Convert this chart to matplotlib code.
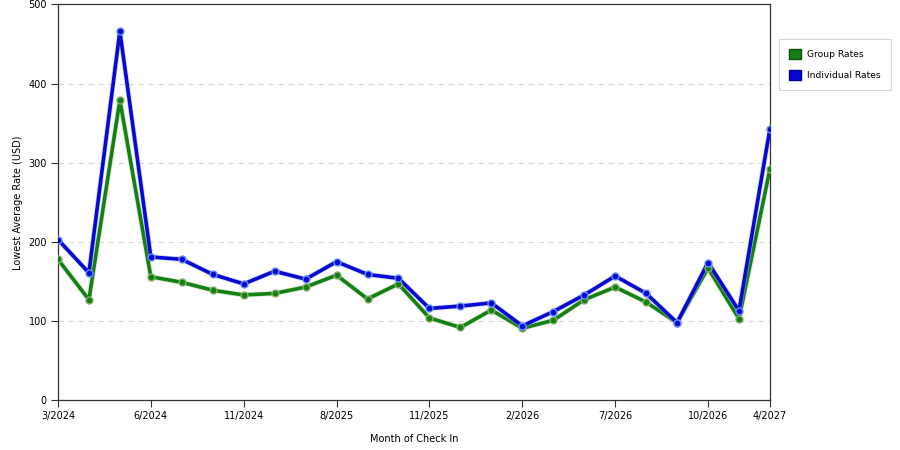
import matplotlib.pyplot as plt
import matplotlib.patheffects as pe
from matplotlib.patches import Patch

# month of check in (only every third one is labelled on the axis)
months = ['3/2024', '4/2024', '5/2024', '6/2024', '7/2024', '9/2024',
          '11/2024', '2/2025', '5/2025', '8/2025', '9/2025', '10/2025',
          '11/2025', '12/2025', '1/2026', '2/2026', '4/2026', '6/2026',
          '7/2026', '8/2026', '9/2026', '10/2026', '12/2026', '4/2027']

group_rates = [178, 127, 379, 156, 149, 139, 133, 135, 143, 158, 128, 147,
               104, 92, 114, 91, 101, 127, 143, 124, 98, 167, 103, 292]
individual_rates = [203, 161, 466, 181, 178, 159, 147, 163, 153, 175, 159, 154,
                    116, 119, 123, 94, 112, 133, 157, 135, 98, 174, 113, 343]

labelled = [0, 3, 6, 9, 12, 15, 18, 21, 23]

green = '#138013'
blue = '#0808d0'

fig = plt.figure(figsize=(9, 4.5), dpi=100)
ax = fig.add_axes([0.0644, 0.1104, 0.7911, 0.88])

x = list(range(len(months)))
for vals, col, halo, mk_edge in [(group_rates, green, '#b8d4a8', '#86ad6a'),
                                 (individual_rates, blue, '#a8b4f4', '#6090ff')]:
    ax.plot(x, vals, color=col, lw=2.6, solid_joinstyle='round', zorder=3,
            path_effects=[pe.Stroke(linewidth=3.8, foreground=halo, alpha=0.5), pe.Normal()])
    ax.plot(x, vals, ls='none', marker='o', ms=5, markerfacecolor=col,
            markeredgecolor=mk_edge, markeredgewidth=1.0, zorder=4)

ax.set_xlim(0, len(months) - 1)
ax.set_ylim(0, 500)
ax.set_yticks([0, 100, 200, 300, 400, 500])
ax.set_xticks(labelled)
ax.set_xticklabels([months[i] for i in labelled])
ax.tick_params(labelsize=7, length=5, width=0.8, color='#333333', pad=3)
ax.grid(axis='y', linestyle=(0, (5, 4)), color='#d8d8d8', lw=0.8)
ax.set_axisbelow(True)
for s in ax.spines.values():
    s.set_color('#333333')
    s.set_linewidth(0.9)

ax.set_xlabel('Month of Check In', fontsize=7, labelpad=9)
ax.set_ylabel('Lowest Average Rate (USD)', fontsize=7, labelpad=4)

handles = [Patch(facecolor=green, edgecolor='#0b500b', label='Group Rates'),
           Patch(facecolor=blue, edgecolor='#00008a', label='Individual Rates')]
leg = fig.legend(handles=handles, loc='upper left', bbox_to_anchor=(0.8656, 0.9133),
                 borderaxespad=0, fontsize=6.6, frameon=True, fancybox=False,
                 edgecolor='#cccccc', handlelength=1.3, handleheight=1.3,
                 handletextpad=0.7, borderpad=1.1, labelspacing=1.2)
leg.get_frame().set_linewidth(0.8)

fig.savefig('out.png', dpi=100)
